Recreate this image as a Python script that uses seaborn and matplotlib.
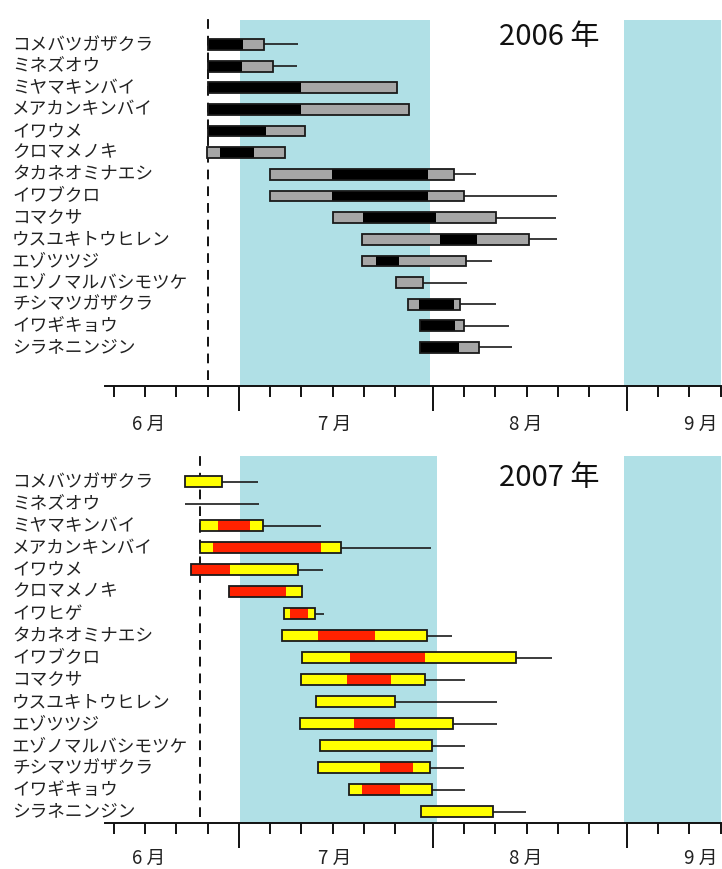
import numpy as np
import pandas as pd
import matplotlib
matplotlib.use("Agg")
import matplotlib.pyplot as plt
import seaborn as sns
from matplotlib.transforms import blended_transform_factory

# Days are counted from 1 June (1 June = 0, 1 July = 30, 1 Aug = 61, 1 Sep = 92)

species_2006 = ["コメバツガザクラ", "ミネズオウ", "ミヤマキンバイ", "メアカンキンバイ",
                "イワウメ", "クロマメノキ", "タカネオミナエシ", "イワブクロ", "コマクサ",
                "ウスユキトウヒレン", "エゾツツジ", "エゾノマルバシモツケ", "チシマツガザクラ",
                "イワギキョウ", "シラネニンジン"]
start_2006 = [25.0, 25.0, 25.0, 25.0, 25.0, 24.9, 35.0, 35.0, 45.0, 49.6, 49.7, 55.1, 57.1, 59.0, 59.0]
end_2006 = [34.0, 35.4, 55.2, 57.2, 40.5, 37.3, 64.4, 65.9, 71.1, 76.4, 66.3, 59.4, 65.3, 66.0, 68.4]
peak_from_2006 = [25.0, 25.0, 25.0, 25.0, 25.0, 27.0, 44.8, 44.8, 49.8, 62.2, 51.9, None, 58.8, 59.0, 59.0]
peak_to_2006 = [30.7, 30.5, 40.0, 40.0, 34.4, 32.4, 60.2, 60.2, 61.5, 68.1, 55.6, None, 64.4, 64.6, 65.2]
tail_from_2006 = [None] * 15
tail_to_2006 = [39.4, 39.3, None, None, None, None, 67.9, 80.8, 80.7, 80.8, 70.4, 66.5, 71.1, 73.1, 73.7]

species_2007 = ["コメバツガザクラ", "ミネズオウ", "ミヤマキンバイ", "メアカンキンバイ",
                "イワウメ", "クロマメノキ", "イワヒゲ", "タカネオミナエシ", "イワブクロ",
                "コマクサ", "ウスユキトウヒレン", "エゾツツジ", "エゾノマルバシモツケ",
                "チシマツガザクラ", "イワギキョウ", "シラネニンジン"]
start_2007 = [21.4, None, 23.8, 23.8, 22.3, 28.4, 37.2, 36.9, 40.1, 40.0, 42.4, 39.7, 42.9, 42.7, 47.6, 59.1]
end_2007 = [27.3, None, 33.9, 46.3, 39.5, 40.1, 42.1, 60.0, 74.3, 59.7, 54.9, 64.2, 60.8, 60.6, 60.8, 70.6]
peak_from_2007 = [None, None, 26.6, 25.8, 22.3, 28.4, 38.1, 42.6, 47.8, 47.3, None, 48.4, None, 52.5, 49.7, None]
peak_to_2007 = [None, None, 31.8, 43.1, 28.5, 37.5, 41.1, 51.8, 59.8, 54.3, None, 54.9, None, 57.9, 55.7, None]
tail_from_2007 = [None, 21.4, None, None, None, None, None, None, None, None, None, None, None, None, None, None]
tail_to_2007 = [33.1, 33.2, 43.2, 60.7, 43.4, None, 43.6, 64.1, 80.1, 66.2, 71.2, 71.2, 66.2, 66.0, 66.1, 75.9]

shade_2006 = [(30.2, 60.6), (91.6, 108.0)]
shade_2007 = [(30.2, 61.6), (91.6, 108.0)]
survey_day_2006 = 25.0
survey_day_2007 = 23.8

month_starts = [30, 61, 92]
minor_days = [10, 15, 20, 25, 35, 40, 45, 50, 55, 66, 71, 76, 81, 86, 97, 102, 107]
month_labels = ["6 月", "7 月", "8 月", "9 月"]
month_label_pos = [15.5, 45.3, 75.8, 103.8]

W, H = 722, 869

sns.set_theme(style="white")
plt.rcParams["font.family"] = ["Noto Sans CJK JP", "DejaVu Sans"]

fig = plt.figure(figsize=(W / 100, H / 100), dpi=100)


def draw_panel(top_px, bottom_px, names, start, end, pfrom, pto, tfrom, tto,
               box_color, peak_color, shades, survey_day, year_text, ylim, shade_top,
               label_offset):
    ax = fig.add_axes([105 / W, 1 - bottom_px / H, (721 - 105) / W, (bottom_px - top_px) / H])
    df = pd.DataFrame({
        "row": np.arange(len(names)),
        "start": pd.to_numeric(pd.Series(start, dtype="object"), errors="coerce"),
        "end": pd.to_numeric(pd.Series(end, dtype="object"), errors="coerce"),
        "pfrom": pd.to_numeric(pd.Series(pfrom, dtype="object"), errors="coerce"),
        "pto": pd.to_numeric(pd.Series(pto, dtype="object"), errors="coerce"),
        "tfrom": pd.to_numeric(pd.Series(tfrom, dtype="object"), errors="coerce"),
        "tto": pd.to_numeric(pd.Series(tto, dtype="object"), errors="coerce"),
    })
    df["tfrom"] = df["tfrom"].fillna(df["end"])

    for a, b in shades:
        ax.axvspan(a, b, ymin=0, ymax=shade_top, color="#b0e0e6", lw=0, zorder=0)
    ax.axvline(survey_day, ymin=0.016, ymax=1, color="#111111", lw=1.4,
               ls=(0, (5, 3.6)), zorder=1)

    bh = 0.5
    t = df.dropna(subset=["tto"])
    ax.hlines(t["row"], t["tfrom"], t["tto"], color="#1a1a1a", lw=1.2, zorder=2)

    b = df.dropna(subset=["start", "end"])
    ax.barh(b["row"], b["end"] - b["start"], left=b["start"], height=bh,
            color=box_color, lw=0, zorder=3)
    p = df.dropna(subset=["pfrom", "pto"])
    ax.barh(p["row"], p["pto"] - p["pfrom"], left=p["pfrom"], height=bh,
            color=peak_color, lw=0, zorder=4)
    ax.barh(b["row"], b["end"] - b["start"], left=b["start"], height=bh,
            fill=False, edgecolor="#1a1a1a", lw=1.3, zorder=5)

    ax.set_xlim(8.6, 107.05)
    ax.set_ylim(*ylim)
    ax.set_facecolor("none")
    for s in ["top", "left", "right"]:
        ax.spines[s].set_visible(False)
    ax.spines["bottom"].set_linewidth(1.4)
    ax.spines["bottom"].set_color("#111111")
    ax.spines["bottom"].set_zorder(6)
    ax.set_yticks([])
    ax.set_xticks(month_starts)
    ax.set_xticks(minor_days, minor=True)
    ax.set_xticklabels([])
    ax.tick_params(axis="x", which="major", direction="out", length=18, width=1.4,
                   color="#111111", bottom=True)
    ax.tick_params(axis="x", which="minor", direction="out", length=8, width=1.4,
                   color="#111111", bottom=True)

    for lab, x in zip(month_labels, month_label_pos):
        ax.annotate(lab, xy=(x, 0), xycoords=("data", "axes fraction"),
                    xytext=(0, label_offset), textcoords="offset points",
                    ha="center", va="center", fontsize=13.5, color="#222222")

    tr = blended_transform_factory(fig.transFigure, ax.transData)
    for r, name in zip(df["row"], names):
        ax.text(12 / W, r, name, transform=tr, ha="left", va="center",
                fontsize=12.7, color="#222222")

    fig.text(499 / W, 1 - (top_px + 22) / H, year_text, ha="left", va="center",
             fontsize=21, color="#111111")
    return ax


draw_panel(15, 386, species_2006, start_2006, end_2006, peak_from_2006, peak_to_2006,
           tail_from_2006, tail_to_2006, "#a6a6a6", "#000000", shade_2006,
           survey_day_2006, "2006 年", (15.78, -1.363), 0.9865, -27.5)
draw_panel(456, 823.3, species_2007, start_2007, end_2007, peak_from_2007, peak_to_2007,
           tail_from_2007, tail_to_2007, "#ffff00", "#ff2200", shade_2007,
           survey_day_2007, "2007 年", (15.53, -1.18), 1.0, -25.0)

fig.savefig("out.png", dpi=100)
